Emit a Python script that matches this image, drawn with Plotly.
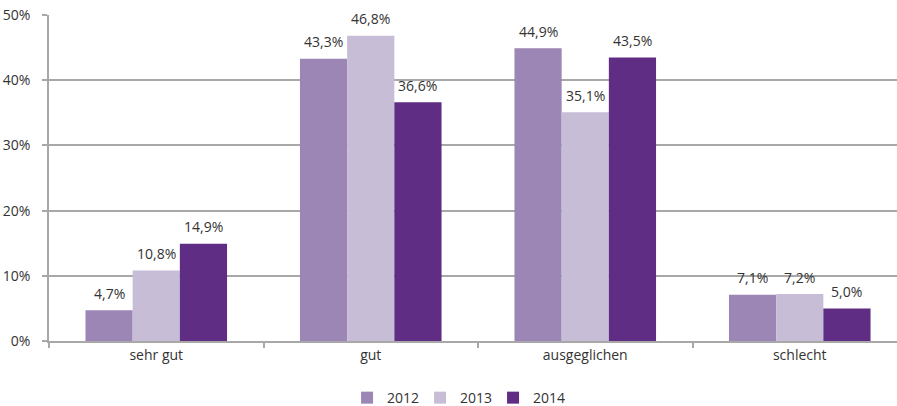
import plotly.graph_objects as go

categories = ["sehr gut", "gut", "ausgeglichen", "schlecht"]
years = ["2012", "2013", "2014"]
values_2012 = [4.7, 43.3, 44.9, 7.1]
values_2013 = [10.8, 46.8, 35.1, 7.2]
values_2014 = [14.9, 36.6, 43.5, 5.0]
colors = ["#9B86B6", "#C7BDD7", "#5F2E84"]
y_ticks = [0, 10, 20, 30, 40, 50]
y_tick_labels = ["0%", "10%", "20%", "30%", "40%", "50%"]

FONT = "Open Sans, sans-serif"
TXT = "#333333"
GRID = "#A8A8A8"

# the plot area runs slightly past the right edge of the 897px window, as in the reference
W, H = 907, 406
ML, MR, MT, MB = 49, 0, 15, 65
BARGAP = 0.34

fig = go.Figure()
series = [values_2012, values_2013, values_2014]
for name, vals, col in zip(years, series, colors):
    fig.add_trace(go.Bar(
        name=name, x=categories, y=vals, marker_color=col, marker_line_width=0,
    ))

# data labels as annotations placed on data coordinates, shifted to each bar of the group
cat_w = (W - ML - MR) / len(categories)
bar_w = cat_w * (1 - BARGAP) / len(series)
annotations = []
for i, vals in enumerate(series):
    off = (i - (len(series) - 1) / 2) * bar_w
    for c, v in zip(categories, vals):
        annotations.append(dict(
            x=c, y=v, xref="x", yref="y", text=f"{v:.1f}".replace(".", ",") + "%",
            showarrow=False, xshift=off, yshift=17, yanchor="middle",
            font=dict(family=FONT, size=14, color=TXT),
        ))

fig.update_layout(
    width=W, height=H,
    margin=dict(l=ML, r=MR, t=MT, b=MB, autoexpand=False),
    plot_bgcolor="white", paper_bgcolor="white",
    barmode="group", bargap=BARGAP, bargroupgap=0,
    font=dict(family=FONT, size=14, color=TXT),
    annotations=annotations,
    legend=dict(orientation="h", x=0.475, xanchor="center", y=-0.175, yanchor="middle",
                font=dict(family=FONT, size=14, color=TXT),
                itemwidth=30, entrywidth=28, tracegroupgap=0),
    showlegend=True,
)
fig.update_xaxes(
    automargin=False,
    showline=True, linecolor=GRID, linewidth=1.5,
    ticks="outside", tickson="boundaries", ticklen=5, tickcolor=GRID, tickwidth=1.5,
    showgrid=False, tickfont=dict(family=FONT, size=14, color=TXT),
)
fig.update_yaxes(
    automargin=False,
    range=[0, 50], tickvals=y_ticks, ticktext=y_tick_labels,
    showline=True, linecolor=GRID, linewidth=1.5,
    ticks="outside", ticklen=5, tickcolor=GRID, tickwidth=1.5,
    showgrid=True, gridcolor=GRID, gridwidth=1.5, zeroline=False,
    tickfont=dict(family=FONT, size=14, color=TXT), ticklabelstandoff=9,
)

fig.write_html("out.html", config={"displayModeBar": False},
               post_script="document.body.style.margin='0';document.body.style.overflow='hidden';document.documentElement.style.overflow='hidden';")
